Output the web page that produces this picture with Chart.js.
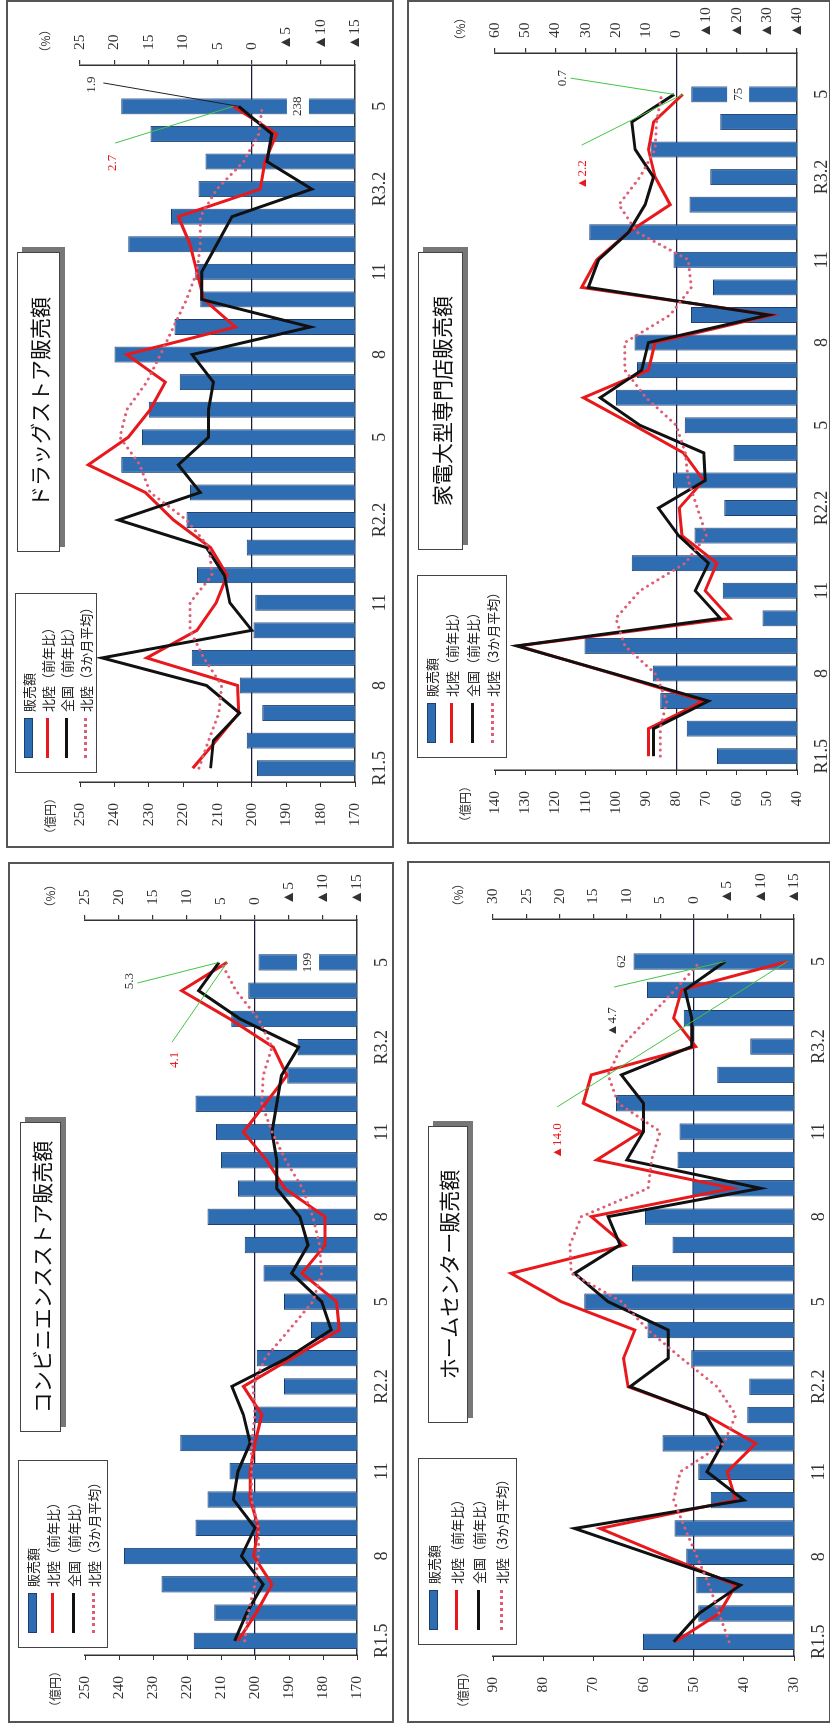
<!DOCTYPE html>
<html>
<head>
<meta charset="utf-8">
<script src="https://cdn.jsdelivr.net/npm/chart.js@4.4.1/dist/chart.umd.min.js"></script>
<style>
  body { margin: 0; width: 830px; height: 1729px; background: #fff; position: relative; overflow: hidden; }
  .frame { position: absolute; border: 2px solid #555; box-sizing: border-box; }
  .turn { position: absolute; transform: rotate(-90deg); transform-origin: 0 0; }
  .turn canvas { position: absolute; left: 0; top: 0; }
  .title { position: absolute; box-sizing: border-box; border: 1.5px solid #444; background: #fff;
           box-shadow: 5px 5px 0 #777; display: flex; align-items: center; justify-content: center;
           font: 21px "Noto Sans CJK JP", sans-serif; color: #111; }
  .legend { position: absolute; box-sizing: border-box; border: 1.5px solid #444; background: #fff;
            display: flex; flex-direction: column; padding: 3px 0; font: 13px "Noto Sans CJK JP", sans-serif; color: #222; }
  .legend .row { flex: 1; display: flex; align-items: center; }
  .mk { width: 40px; margin: 0 6px 0 14px; flex: none; box-sizing: border-box; }
  .mk.bar { height: 9px; background: #2f6db3; border: 1px solid #1c3f6e; }
  .mk.red { height: 3px; background: #e8191c; }
  .mk.black { height: 3px; background: #111; }
  .mk.dot { height: 0; border-top: 3px dotted #de5f75; }
</style>
</head>
<body>
<script>
// months R1.5 .. R3.5, plus one spare slot on the right as in the original
const months = ['R1.5', '', '', '8', '', '', '11', '', '', 'R2.2', '', '', '5', '', '', '8', '', '', '11', '', '', 'R3.2', '', '', '5', ''];

// ドラッグストア (億円 / %)
const drugSales = [198.5, 201.5, 197.0, 203.5, 217.5, 199.5, 199.0, 216.0, 201.5, 219.0, 218.0, 238.0, 232.0, 230.0, 221.0, 240.0, 222.5, 215.0, 216.5, 236.0, 223.5, 215.5, 213.5, 229.5, 238.0];
const drugHokuriku = [8.6, 5.2, 1.9, 2.1, 15.3, 8.0, 5.2, 3.6, 6.0, 11.4, 15.5, 23.8, 18.0, 14.8, 12.6, 18.2, 2.4, 7.0, 8.0, 9.0, 10.7, -1.2, -1.9, -3.6, 2.7];
const drugZenkoku = [6.0, 5.6, 1.8, 6.6, 21.8, 0.0, 3.2, 4.0, 6.6, 19.4, 7.5, 10.7, 6.3, 6.3, 5.6, 8.7, -8.5, 7.3, 7.3, 5.1, 2.9, -8.7, -2.2, -2.9, 1.9];
const drugAvg = [7.7, 6.3, 4.8, 4.4, 7.0, 9.0, 9.0, 5.8, 6.2, 9.5, 14.8, 16.3, 19.2, 18.2, 15.3, 13.3, 11.4, 9.5, 8.0, 7.5, 7.5, 5.1, 1.2, -1.0, -1.5];

// 家電大型専門店
const kadenSales = [66.5, 76.5, 85.3, 87.8, 110.4, 51.4, 64.6, 94.7, 73.9, 64.1, 81.1, 61.0, 77.2, 99.9, 93.0, 93.8, 75.1, 67.8, 80.9, 108.8, 75.6, 68.7, 88.5, 65.4, 75.0];
const kadenHokuriku = [9.2, 9.2, -9.1, 21.3, 52.3, -17.9, -9.6, -13.5, -1.9, -1.0, -9.1, -2.4, 14.0, 30.7, 9.2, 7.0, -31.7, 31.3, 26.3, 15.8, 2.0, 7.0, 9.2, 7.5, -2.2];
const kadenZenkoku = [7.5, 7.5, -10.7, 20.8, 52.8, -14.6, -6.3, -10.7, -0.8, 5.9, -9.6, -9.1, 12.0, 25.2, 11.4, 9.2, -30.6, 29.1, 25.7, 15.8, 10.3, 7.5, 13.6, 14.7, 0.7];
const kadenAvg = [5.3, 5.3, 3.1, 7.0, 17.0, 20.0, 12.0, -3.0, -10.0, -7.0, -4.0, -3.0, 0.0, 10.0, 17.0, 17.0, 2.0, -5.0, -4.0, 13.0, 19.0, 12.0, 7.0, 6.5, 4.8];

// コンビニエンスストア
const cvsSales = [218.0, 212.0, 227.5, 238.5, 217.5, 214.0, 207.5, 222.0, 200.0, 191.5, 199.5, 183.5, 191.5, 197.5, 203.0, 214.0, 205.0, 210.0, 211.5, 217.5, 190.5, 187.5, 207.0, 202.0, 199.0];
const cvsHokuriku = [2.5, -0.2, -2.5, 0.2, -0.5, 0.7, 0.7, 0.0, -1.0, 1.7, -5.4, -12.4, -12.0, -6.9, -10.3, -10.3, -4.4, -1.7, 1.7, -1.5, -4.7, -2.7, 3.7, 10.8, 4.1];
const cvsZenkoku = [3.0, 1.2, -1.2, 2.0, 0.0, 3.2, 2.5, 0.7, 1.7, 3.4, -4.7, -11.2, -9.8, -5.4, -7.8, -6.6, -3.2, -3.2, -2.5, -3.2, -3.9, -6.4, 2.2, 8.3, 5.3];
const cvsAvg = [1.5, 1.0, 0.0, -0.5, -0.5, 0.5, 0.5, 0.5, 0.0, 0.3, -1.5, -5.0, -8.5, -9.8, -9.5, -8.5, -7.0, -4.5, -2.5, -1.0, -1.2, -2.5, -0.5, 2.8, 5.0];

// ホームセンター
const homeSales = [60.1, 49.1, 49.5, 51.5, 53.8, 46.6, 49.1, 56.2, 39.3, 38.9, 50.5, 59.2, 71.8, 62.3, 54.2, 59.7, 50.3, 53.2, 52.8, 65.5, 45.3, 38.7, 52.0, 59.3, 62.0];
const homeHokuriku = [2.8, -3.8, -6.3, 3.9, 14.0, -6.3, -5.0, -9.3, -1.8, 9.8, 10.5, 8.8, 19.8, 27.3, 10.3, 15.3, -5.8, 14.5, 7.8, 16.5, 15.3, -0.3, 3.0, 1.8, -14.0];
const homeZenkoku = [3.0, -0.8, -7.0, 5.4, 17.8, -7.5, -2.0, -4.3, -1.8, 9.5, 3.8, 3.8, 12.8, 17.8, 11.0, 12.8, -10.0, 10.0, 7.5, 7.5, 10.8, 0.3, 0.3, 1.3, -4.7];
const homeAvg = [-5.3, -3.8, -2.3, -0.5, 1.3, 3.0, 2.0, -4.5, -6.3, -3.5, 1.8, 6.8, 10.8, 18.3, 18.5, 16.8, 6.8, 6.3, 5.0, 11.3, 12.8, 10.8, 6.8, 2.8, -1.0];

const SERIF = '"Liberation Serif", "DejaVu Serif", serif';
const SERIF_TRI = '"Liberation Serif", "Noto Sans CJK JP", serif'; // full-width ▲ like the original
const GOTHIC = '"Noto Sans CJK JP", sans-serif';
const RED = '#e8191c', BLACK = '#111', PINK = '#de5f75', GREEN = '#43c443';

const legendItems = [['販売額', 'bar'], ['北陸（前年比）', 'red'], ['全国（前年比）', 'black'], ['北陸（3か月平均）', 'dot']];

// each panel: page box, plot area inside the upright chart, axis ranges, overlays
const panels = [
  { title: 'ドラッグストア販売額', sales: drugSales, hokuriku: drugHokuriku, zenkoku: drugZenkoku, avg: drugAvg,
    box: { left: 7, top: 1, right: 393, bottom: 847 }, area: { left: 65, right: 782, top: 73, bottom: 348 },
    yen: [170, 250, 10], pct: [-15, 25, 5],
    titleBox: [295, 10, 300, 43], legendBox: [74, 8, 180, 82],
    tag: { at: 186.6, boxed: true },
    notes: [
      { series: drugZenkoku, color: '#333', lead: '#222', at: [24.79, 23.25], from: [24.85, 21.6] },
      { series: drugHokuriku, color: RED, lead: GREEN, at: [21.95, 20.2], from: [22.67, 19.9] }
    ] },
  { title: '家電大型専門店販売額', sales: kadenSales, hokuriku: kadenHokuriku, zenkoku: kadenZenkoku, avg: kadenAvg,
    box: { left: 408, top: 1, right: 830, bottom: 843 }, area: { left: 73, right: 790, top: 87, bottom: 389 },
    yen: [40, 140, 10], pct: [-40, 60, 10],
    titleBox: [293, 10, 298, 45], legendBox: [85, 9, 183, 90],
    tag: { at: 59.5, boxed: true },
    notes: [
      { series: kadenZenkoku, color: '#333', lead: GREEN, at: [24.59, 37.6], from: [24.59, 35.0] },
      { series: kadenHokuriku, color: RED, lead: GREEN, at: [21.08, 30.9], from: [22.16, 31.3] }
    ] },
  { title: 'コンビニエンスストア販売額', sales: cvsSales, hokuriku: cvsHokuriku, zenkoku: cvsZenkoku, avg: cvsAvg,
    box: { left: 9, top: 863, right: 393, bottom: 1722 }, area: { left: 67, right: 802, top: 76, bottom: 348 },
    yen: [170, 250, 10], pct: [-15, 25, 5],
    titleBox: [290, 11, 310, 41], legendBox: [74, 9, 188, 90],
    tag: { at: 184.4, boxed: true },
    notes: [
      { series: cvsZenkoku, color: '#333', lead: GREEN, at: [23.34, 18.5], from: [23.27, 17.3] },
      { series: cvsHokuriku, color: RED, lead: GREEN, at: [20.55, 11.9], from: [21.18, 12.2] }
    ] },
  { title: 'ホームセンター販売額', sales: homeSales, hokuriku: homeHokuriku, zenkoku: homeZenkoku, avg: homeAvg,
    box: { left: 408, top: 862, right: 830, bottom: 1722 }, area: { left: 66, right: 803, top: 85, bottom: 386 },
    yen: [30, 90, 10], pct: [-15, 30, 5],
    titleBox: [299, 20, 297, 40], legendBox: [77, 10, 187, 99],
    tag: { at: 64.3, boxed: false },
    notes: [
      { series: homeHokuriku, color: RED, lead: GREEN, at: [17.67, 20.3], from: [18.87, 20.4] },
      { series: homeZenkoku, color: '#333', lead: GREEN, at: [21.87, 12.1], from: [23.1, 11.9] }
    ] }
];

const pctText = v => v < 0 ? '▲' + Math.abs(v).toFixed(1) : v.toFixed(1);

function overlayFor(p) {
  return {
    id: 'overlay',
    afterDatasetsDraw(chart) {
      const { ctx, chartArea: a, scales: { x, y, y1 } } = chart;
      const last = p.sales.length - 1;
      ctx.save();
      ctx.textAlign = 'center';
      ctx.textBaseline = 'middle';
      // unit captions
      ctx.fillStyle = '#333';
      ctx.font = '12px ' + GOTHIC;
      ctx.fillText('（億円）', a.left - 34, a.top - 30);
      ctx.fillText('（%）', a.right + 24, a.top - 35);
      // value of the latest bar
      const bx = x.getPixelForValue(last), by = y.getPixelForValue(p.tag.at);
      const txt = String(Math.round(p.sales[last]));
      ctx.font = '13px ' + SERIF;
      if (p.tag.boxed) {
        const w = ctx.measureText(txt).width + 6;
        ctx.fillStyle = '#fff';
        ctx.fillRect(bx - w / 2, by - 11, w, 22);
      }
      ctx.fillStyle = '#333';
      ctx.fillText(txt, bx, by);
      // latest-month callouts with leader lines
      p.notes.forEach(n => {
        ctx.strokeStyle = n.lead;
        ctx.lineWidth = 1;
        ctx.beginPath();
        ctx.moveTo(x.getPixelForValue(n.from[0]), y1.getPixelForValue(n.from[1]));
        ctx.lineTo(x.getPixelForValue(last), y1.getPixelForValue(n.series[last]));
        ctx.stroke();
        ctx.fillStyle = n.color;
        ctx.font = '13px ' + SERIF_TRI;
        ctx.fillText(pctText(n.series[last]), x.getPixelForValue(n.at[0]), y1.getPixelForValue(n.at[1]));
      });
      ctx.restore();
    }
  };
}

panels.forEach(p => {
  const b = p.box, a = p.area;
  const W = b.bottom - b.top, H = b.right - b.left;

  const frame = document.createElement('div');
  frame.className = 'frame';
  Object.assign(frame.style, { left: (b.left - 1) + 'px', top: (b.top - 1) + 'px', width: (H + 2) + 'px', height: (W + 2) + 'px' });
  document.body.appendChild(frame);

  // the page shows every chart turned a quarter to the left
  const turn = document.createElement('div');
  turn.className = 'turn';
  Object.assign(turn.style, { left: b.left + 'px', top: b.bottom + 'px', width: W + 'px', height: H + 'px' });
  document.body.appendChild(turn);

  const canvas = document.createElement('canvas');
  canvas.width = W;
  canvas.height = H;
  turn.appendChild(canvas);

  const title = document.createElement('div');
  title.className = 'title';
  Object.assign(title.style, { left: p.titleBox[0] + 'px', top: p.titleBox[1] + 'px', width: p.titleBox[2] + 'px', height: p.titleBox[3] + 'px' });
  title.textContent = p.title;
  turn.appendChild(title);

  const legend = document.createElement('div');
  legend.className = 'legend';
  Object.assign(legend.style, { left: p.legendBox[0] + 'px', top: p.legendBox[1] + 'px', width: p.legendBox[2] + 'px', height: p.legendBox[3] + 'px' });
  legendItems.forEach(([text, kind]) => {
    const row = document.createElement('div');
    row.className = 'row';
    row.innerHTML = '<span class="mk ' + kind + '"></span><span>' + text + '</span>';
    legend.appendChild(row);
  });
  turn.appendChild(legend);

  new Chart(canvas, {
    type: 'bar',
    data: {
      labels: months,
      datasets: [
        { type: 'line', label: '北陸（前年比）', data: p.hokuriku, yAxisID: 'y1', borderColor: RED, borderWidth: 3,
          pointRadius: 0, tension: 0, order: 3 },
        { type: 'line', label: '全国（前年比）', data: p.zenkoku, yAxisID: 'y1', borderColor: BLACK, borderWidth: 3,
          pointRadius: 0, tension: 0, order: 2 },
        { type: 'line', label: '北陸（3か月平均）', data: p.avg, yAxisID: 'y1', borderColor: PINK, borderWidth: 3,
          borderDash: [0.1, 6], borderCapStyle: 'round', pointRadius: 0, tension: 0, order: 1 },
        { label: '販売額', data: p.sales, yAxisID: 'y', backgroundColor: '#2f6db3', borderColor: '#1c3f6e',
          borderWidth: 1, barPercentage: 0.58, categoryPercentage: 1, order: 4 }
      ]
    },
    options: {
      responsive: false,
      animation: false,
      devicePixelRatio: 1,
      layout: { padding: { top: a.top, left: 0, right: 0, bottom: 0 } },
      plugins: { legend: { display: false }, tooltip: { enabled: false } },
      scales: {
        x: {
          grid: { display: false, drawTicks: false },
          border: { display: true, color: '#333', width: 1.5 },
          ticks: { autoSkip: false, maxRotation: 0, minRotation: 0, padding: 14, color: '#333', font: { family: SERIF, size: 18 } },
          afterFit: s => { s.height = H - a.bottom; }
        },
        y: {
          position: 'left',
          min: p.yen[0], max: p.yen[1],
          ticks: { stepSize: p.yen[2], padding: 16, color: '#333', font: { family: SERIF, size: 15.5 } },
          grid: { drawOnChartArea: false, tickLength: 5, color: '#333' },
          border: { display: true, color: '#333', width: 1.5 },
          afterFit: s => { s.width = a.left; }
        },
        y1: {
          position: 'right',
          min: p.pct[0], max: p.pct[1],
          ticks: { stepSize: p.pct[2], padding: 10, color: '#333', font: { family: SERIF_TRI, size: 15.5 },
                   callback: v => v < 0 ? '▲' + Math.abs(v) : String(v) },
          grid: { color: c => (c.tick && c.tick.value === 0) ? '#1a1a3a' : 'rgba(0,0,0,0)', lineWidth: 1.2,
                  tickColor: '#333', tickLength: 5 },
          border: { display: true, color: '#333', width: 1.5 },
          afterFit: s => { s.width = W - a.right; }
        }
      }
    },
    plugins: [overlayFor(p)]
  });
});
</script>
</body>
</html>
